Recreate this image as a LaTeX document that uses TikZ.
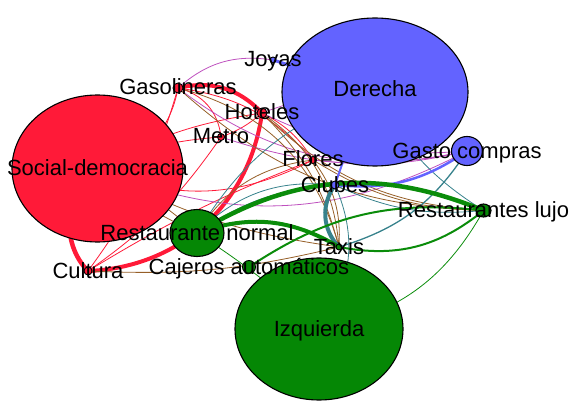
\documentclass[tikz,border=0pt]{standalone}
\usepackage{fontspec}
\setmainfont{Liberation Sans}
\usetikzlibrary{shapes.geometric}
\pgfdeclarelayer{edges}
\pgfsetlayers{edges,main}

\definecolor{redfill}{RGB}{255,26,56}
\definecolor{bluefill}{RGB}{99,99,255}
\definecolor{greenfill}{RGB}{5,135,5}
\definecolor{purplec}{RGB}{190,80,190}
\definecolor{brownc}{RGB}{150,95,40}
\definecolor{tealc}{RGB}{55,130,140}
\definecolor{greenc}{RGB}{10,140,10}

\begin{document}
\begin{tikzpicture}[x=1pt,y=-1pt,
  vtx/.style={ellipse, draw=black, line width=1.1pt, inner sep=0pt},
  dot/.style={circle, draw=black, line width=0.9pt, inner sep=0pt, minimum size=#1},
  lbl/.style={font=\fontsize{22}{22}\selectfont, anchor=base, inner sep=0pt, text=black},
  thin/.style={line width=0.8pt},
  rdE/.style={draw=redfill, thin},
  puE/.style={draw=purplec, thin},
  brE/.style={draw=brownc, thin},
  tlE/.style={draw=tealc, thin},
  blE/.style={draw=bluefill, thin},
  gnE/.style={draw=greenc, thin}]
\useasboundingbox (0,0) rectangle (573,401);

% vertices
\node[vtx, fill=redfill, minimum width=171pt, minimum height=147pt] (sd) at (97.5,168.5) {};
\node[vtx, fill=bluefill, minimum width=186pt, minimum height=148pt] (der) at (375,92) {};
\node[vtx, fill=greenfill, minimum width=168pt, minimum height=142pt] (izq) at (319,329) {};
\node[vtx, fill=bluefill, minimum width=31pt, minimum height=29pt] (gc) at (467,151) {};
\node[vtx, fill=greenfill, minimum width=54pt, minimum height=47pt] (rn) at (197,233) {};
\node[vtx, fill=greenfill, minimum width=15pt, minimum height=13pt] (rl) at (483.5,210.5) {};
\node[dot=13pt, fill=greenfill] (caj) at (249,267) {};
\node[dot=6pt, fill=greenfill] (tax) at (339,247) {};
\node[dot=8pt, fill=bluefill] (clu) at (335,185) {};
\node[dot=7pt, fill=redfill] (flo) at (313,160) {};
\node[dot=10pt, fill=redfill] (hot) at (262,113) {};
\node[dot=7pt, fill=redfill] (met) at (221,137) {};
\node[dot=10pt, fill=redfill] (gas) at (178,88) {};
\node[dot=6pt, fill=bluefill] (joy) at (273,60) {};
\node[dot=8pt, fill=redfill] (cul) at (88,271) {};

\begin{pgfonlayer}{edges}
% red ties
\draw[rdE, line width=4.5pt] (sd.center) to[bend right=50] (cul.center);
\draw[rdE, line width=4pt] (gas.center) to[bend left=30] (hot.center);
\draw[rdE, line width=4pt] (hot.center) to[bend left=40] (cul.center);
\draw[rdE] (gas.center) to[bend left=35] (sd.center);
\draw[rdE] (gas.center) to[bend left=10] (cul.center);
\draw[rdE] (gas.center) to[bend left=35] (met.center);
\draw[rdE] (met.center) to[bend right=10] (sd.center);
\draw[rdE] (hot.center) to[bend left=10] (met.center);
\draw[rdE] (hot.center) to[bend right=10] (sd.center);
\draw[rdE] (flo.center) to[bend left=25] (sd.center);
\draw[rdE] (hot.center) to[bend left=15] (flo.center);
\draw[rdE] (gas.center) to[bend left=20] (flo.center);
\draw[rdE] (cul.center) to[bend right=10] (met.center);
\draw[rdE] (cul.center) to[bend left=5] (flo.center);
% red-blue ties
\draw[puE] (gas.center) to[bend left=25] (joy.center);
\draw[puE] (hot.center) to[bend left=10] (der.center);
\draw[puE] (gas.center) to[bend right=25] (gc.center);
\draw[puE] (met.center) to[bend right=15] (gc.center);
\draw[puE] (sd.center) to[bend right=25] (gc.center);
\draw[puE] (flo.center) to[bend right=10] (gc.center);
\draw[puE] (hot.center) to[bend right=15] (gc.center);
% red-green ties
\draw[brE] (gas.center) to[bend left=30] (tax.center);
\draw[brE] (hot.center) to[bend left=15] (tax.center);
\draw[brE] (hot.center) to[bend left=25] (tax.center);
\draw[brE] (hot.center) to[bend right=20] (rl.center);
\draw[brE] (gas.center) to[bend right=20] (rl.center);
\draw[brE] (rn.center) to[bend left=25] (flo.center);
\draw[brE] (sd.center) to[bend left=8] (rn.center);
\draw[brE] (sd.center) to[bend right=8] (rn.center);
\draw[brE] (cul.center) to[bend right=8] (tax.center);
\draw[brE] (sd.center) to[bend right=10] (tax.center);
\draw[brE] (flo.center) to[bend left=20] (tax.center);
\draw[brE] (flo.center) to[bend right=15] (rl.center);
% blue-green ties
\draw[tlE, line width=4pt] (clu.center) to[bend right=40] (tax.center);
\draw[tlE] (rn.center) to[bend left=15] (clu.center);
\draw[tlE] (rn.center) to[bend left=25] (clu.center);
\draw[tlE] (rn.center) to[bend left=20] (der.center);
\draw[tlE, line width=1.3pt] (gc.center) to[bend left=20] (tax.center);
\draw[tlE] (der.center) to[bend right=15] (rl.center);
\draw[tlE] (clu.center) to[bend right=15] (rl.center);
\draw[tlE] (clu.center) to[bend left=30] (izq.center);
% blue ties
\draw[blE, line width=3pt] (joy.center) -- (der.center);
\draw[blE, line width=2.5pt] (gc.center) to[bend left=20] (clu.center);
\draw[blE, line width=2pt] (der.center) to[bend right=5] (clu.center);
% green ties
\draw[gnE, line width=4.5pt] (rn.center) to[bend left=27] (rl.center);
\draw[gnE, line width=4pt] (rn.center) to[bend left=25] (tax.center);
\draw[gnE, line width=2pt] (caj.center) to[bend left=20] (rl.center);
\draw[gnE, line width=2pt] (tax.center) to[bend right=25] (rl.center);
\draw[gnE] (rl.center) to[bend left=25] (izq.center);
\draw[gnE] (rn.center) to[bend left=5] (izq.center);
\end{pgfonlayer}

% vertex labels
\node[lbl] (sd-t) at ([yshift=-7pt]sd.center) {Social-democracia};
\node[lbl] (der-t) at ([yshift=-5pt]der.center) {Derecha};
\node[lbl] (izq-t) at ([yshift=-7pt]izq.center) {Izquierda};
\node[lbl] (gc-t) at ([yshift=-7pt]gc.center) {Gasto compras};
\node[lbl] (rn-t) at ([yshift=-7pt]rn.center) {Restaurante normal};
\node[lbl] (rl-t) at ([yshift=-7pt]rl.center) {Restaurantes lujo};
\node[lbl] (caj-t) at ([yshift=-7pt]caj.center) {Cajeros automáticos};
\node[lbl] (tax-t) at ([yshift=-7pt]tax.center) {Taxis};
\node[lbl] (clu-t) at ([yshift=-7pt]clu.center) {Clubes};
\node[lbl] (flo-t) at ([yshift=-7pt]flo.center) {Flores};
\node[lbl] (hot-t) at ([yshift=-7pt]hot.center) {Hoteles};
\node[lbl] (met-t) at ([yshift=-7pt]met.center) {Metro};
\node[lbl] (gas-t) at ([yshift=-7pt]gas.center) {Gasolineras};
\node[lbl] (joy-t) at ([yshift=-7pt]joy.center) {Joyas};
\node[lbl] (cul-t) at ([yshift=-7pt]cul.center) {Cultura};
\end{tikzpicture}
\end{document}
